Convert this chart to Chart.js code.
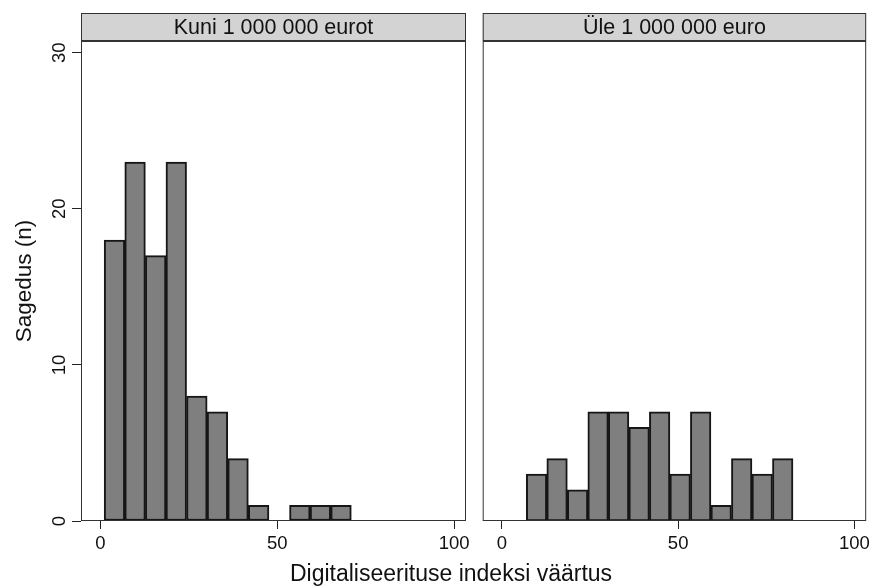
<!DOCTYPE html>
<html>
<head>
<meta charset="utf-8">
<script src="https://cdn.jsdelivr.net/npm/chart.js@4.4.1/dist/chart.umd.min.js"></script>
<style>
  html, body { margin: 0; padding: 0; background: #fff; }
  #wrap { position: relative; width: 874px; height: 586px; overflow: hidden; background: #fff; }
  #wrap canvas { position: absolute; top: 0; }
  #small { left: 0; }
  #large { left: 474px; }
  #xtitle {
    position: absolute; left: 0; top: 562px; width: 902px;
    text-align: center; line-height: 1;
    font-family: "Liberation Sans", Arial, sans-serif; font-size: 23px; color: #111;
  }
</style>
</head>
<body>
<div id="wrap">
  <canvas id="small" width="474" height="586"></canvas>
  <canvas id="large" width="400" height="586"></canvas>
  <div id="xtitle"></div>
</div>
<script>
// Histogram of the digitalisation index, split by company turnover
const panelTitles = ['Kuni 1 000 000 eurot', 'Üle 1 000 000 euro'];
const binStart = 1.1;      // lower edge of the first bin
const binWidth = 5.82;     // common bin width for both panels
const countsSmall = [18, 23, 17, 23, 8, 7, 4, 1, 0, 1, 1, 1];
const countsLarge = [0, 3, 4, 2, 7, 7, 6, 7, 3, 7, 1, 4, 3, 4];
const xTickValues = [0, 50, 100];
const yTickValues = [0, 10, 20, 30];
const yAxisTitle = 'Sagedus (n)';
const xAxisTitle = 'Digitaliseerituse indeksi väärtus';

const FONT = '"Liberation Sans", Arial, sans-serif';
const X_MIN = -5.45, X_MAX = 103.35;
const Y_MIN = 0, Y_MAX = 30.75;

document.getElementById('xtitle').textContent = xAxisTitle;

// strip header above each panel and the box round its plot region
const panelDecor = {
  id: 'panelDecor',
  afterDraw(chart, args, opts) {
    const { ctx, chartArea: a } = chart;
    const h = 28;
    const w = a.right - a.left;
    ctx.save();
    ctx.fillStyle = '#d3d3d3';
    ctx.fillRect(a.left, a.top - h, w, h);
    ctx.strokeStyle = '#333';
    ctx.lineWidth = 1;
    ctx.strokeRect(a.left + 0.5, a.top - h + 0.5, w - 1, h - 1);
    ctx.fillStyle = '#111';
    ctx.font = '21.5px ' + FONT;
    ctx.textAlign = 'center';
    ctx.textBaseline = 'middle';
    ctx.fillText(opts.title, (a.left + a.right) / 2, a.top - h / 2 + 1);
    ctx.strokeRect(a.left + 0.5, a.top + 0.5, w - 1, a.bottom - a.top - 1);
    ctx.restore();
  }
};

function makePanel(id, counts, title, showY, padding) {
  const mids = counts.map((_, i) => binStart + binWidth * (i + 0.5));
  return new Chart(document.getElementById(id), {
    type: 'bar',
    data: {
      datasets: [{
        data: mids.map((x, i) => ({ x: x, y: counts[i] })),
        backgroundColor: '#7f7f7f',
        borderColor: '#161616',
        borderWidth: 2,
        borderSkipped: false,
        barPercentage: 1,
        categoryPercentage: 1
      }]
    },
    options: {
      responsive: false,
      animation: false,
      devicePixelRatio: 1,
      layout: { padding: padding },
      plugins: {
        legend: { display: false },
        tooltip: { enabled: false },
        panelDecor: { title: title }
      },
      scales: {
        x: {
          type: 'linear',
          offset: false,
          min: X_MIN, max: X_MAX,
          afterBuildTicks: s => { s.ticks = xTickValues.map(v => ({ value: v })); },
          afterFit: s => { s.height = 65; },
          border: { display: false },
          grid: { display: true, offset: false, drawOnChartArea: false, drawTicks: true, tickLength: 8, color: '#222', lineWidth: 1 },
          ticks: { color: '#111', font: { family: FONT, size: 18.5 }, padding: 4, maxRotation: 0, minRotation: 0 }
        },
        y: {
          display: showY,
          min: Y_MIN, max: Y_MAX,
          afterBuildTicks: s => { s.ticks = yTickValues.map(v => ({ value: v })); },
          afterFit: s => { s.width = showY ? 81 : 0; },
          border: { display: false },
          grid: { display: true, drawOnChartArea: false, drawTicks: true, tickLength: 9, color: '#222', lineWidth: 1 },
          ticks: { color: '#111', font: { family: FONT, size: 18.5 }, padding: 2, minRotation: 90, maxRotation: 90, crossAlign: 'center' },
          title: { display: true, text: yAxisTitle, color: '#111', font: { family: FONT, size: 22.5 }, padding: { top: 11.5, bottom: 0 } }
        }
      }
    },
    plugins: [panelDecor]
  });
}

makePanel('small', countsSmall, panelTitles[0], true, { top: 41, right: 8, left: 0, bottom: 0 });
makePanel('large', countsLarge, panelTitles[1], false, { top: 41, right: 6, left: 8.7, bottom: 0 });
</script>
</body>
</html>
